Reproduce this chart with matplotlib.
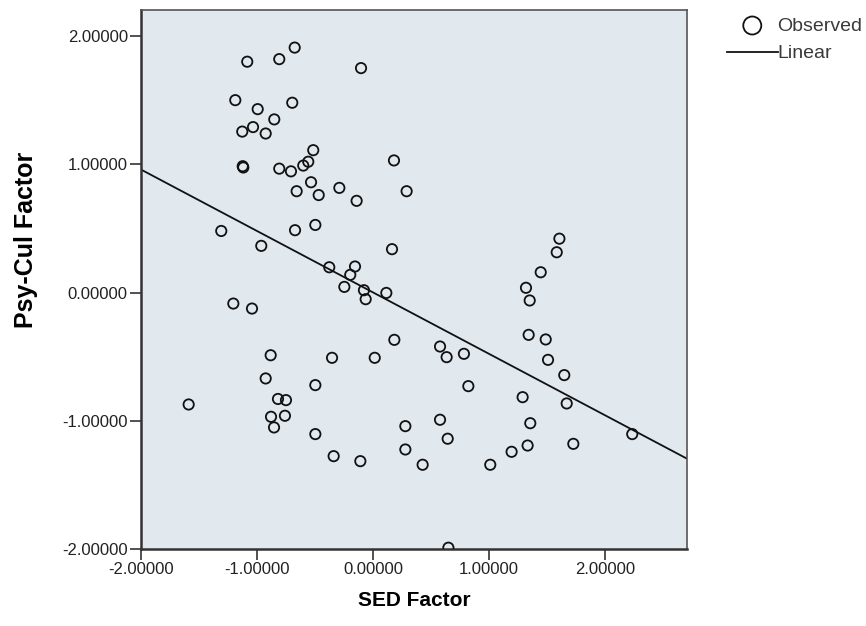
import matplotlib
matplotlib.use('Agg')
import matplotlib.pyplot as plt
import numpy as np

plt.rcParams['font.family'] = ['Liberation Sans', 'DejaVu Sans']

# SED Factor (x) and Psy-Cul Factor (y)
sed = [-1.084, -0.808, -0.675, -0.103, -1.187, -0.696, -0.994, -0.851, -1.127, -1.034,
       -0.925, -0.515, -0.558, -0.601, 0.181, -1.123, -1.118, -0.808, -0.707, -0.534,
       -0.658, -0.468, -0.290, -0.141, 0.290, -1.308, -0.963, -0.672, -0.497, 0.164,
       -0.377, -0.155, -0.196, -0.247, -0.078, -0.063, 0.115, -1.204, -1.043, 0.184,
       -0.882, -0.353, 0.015, -0.925, -0.497, -1.589, -0.819, -0.750, -0.879, -0.759,
       -0.853, -0.497, -0.339, -0.109, 0.279, 0.279, 1.446, 1.319, 1.351, 1.342,
       1.489, 1.509, 1.649, 0.578, 0.635, 0.784, 0.822, 1.290, 1.670, 1.356,
       2.235, 0.578, 0.644, 0.428, 1.011, 1.195, 1.333, 1.727, 0.650, 1.607,
       1.584]
psycul = [1.80, 1.82, 1.91, 1.75, 1.50, 1.48, 1.43, 1.35, 1.255, 1.29,
          1.24, 1.11, 1.02, 0.99, 1.03, 0.985, 0.975, 0.966, 0.945, 0.86,
          0.79, 0.76, 0.816, 0.715, 0.79, 0.48, 0.364, 0.486, 0.527, 0.338,
          0.197, 0.203, 0.138, 0.044, 0.018, -0.052, -0.003, -0.086, -0.125, -0.369,
          -0.489, -0.509, -0.509, -0.670, -0.722, -0.873, -0.830, -0.839, -0.969, -0.961,
          -1.052, -1.104, -1.276, -1.315, -1.042, -1.224, 0.158, 0.037, -0.062, -0.330,
          -0.366, -0.525, -0.644, -0.421, -0.504, -0.478, -0.730, -0.816, -0.865, -1.019,
          -1.104, -0.992, -1.140, -1.343, -1.343, -1.242, -1.193, -1.180, -1.990, 0.420,
          0.314]

# linear fit line as shown
fit_slope = -0.479
fit_intercept = 0.001

xlim = (-2.0, 2.707)
ylim = (-2.0, 2.203)

fig = plt.figure(figsize=(8.66, 6.26), dpi=100)
ax = fig.add_axes([0.1628, 0.123, 0.6305, 0.861])
ax.set_facecolor('#e1e8ee')

sc = ax.scatter(sed, psycul, s=55, facecolors='none', edgecolors='#111111',
                linewidths=1.3, label='Observed', zorder=3)
xs = np.array(xlim)
ln, = ax.plot(xs, fit_intercept + fit_slope * xs, color='#111111', lw=1.3,
              label='Linear', zorder=2)

ax.set_xlim(*xlim)
ax.set_ylim(*ylim)
ax.set_xticks([-2, -1, 0, 1, 2])
ax.set_yticks([-2, -1, 0, 1, 2])
ax.xaxis.set_major_formatter(matplotlib.ticker.FormatStrFormatter('%.5f'))
ax.yaxis.set_major_formatter(matplotlib.ticker.FormatStrFormatter('%.5f'))
ax.tick_params(direction='out', length=8, width=1.2, color='#333333', pad=1.5,
               labelsize=12, labelcolor='#222222')
for s in ax.spines.values():
    s.set_color('#555555')
    s.set_linewidth(1.2)
ax.spines['left'].set_color('#333333')
ax.spines['bottom'].set_color('#333333')
ax.spines['left'].set_linewidth(1.8)
ax.spines['bottom'].set_linewidth(1.8)

ax.set_xlabel('SED Factor', fontsize=15, fontweight='bold', labelpad=10)
ax.set_ylabel('Psy-Cul Factor', fontsize=18, fontweight='bold')
ax.yaxis.set_label_coords(-0.189, 0.573)

leg = fig.legend(handles=[sc, ln], loc='upper left', bbox_to_anchor=(727 / 866, 1 - 17 / 626),
                 frameon=False, fontsize=14, handlelength=2.6, handletextpad=0.0,
                 labelspacing=0.52, borderpad=0.0, borderaxespad=0.0, markerscale=1.75)
for t in leg.get_texts():
    t.set_color('#3a3a3a')

fig.savefig('out.png', dpi=100)
